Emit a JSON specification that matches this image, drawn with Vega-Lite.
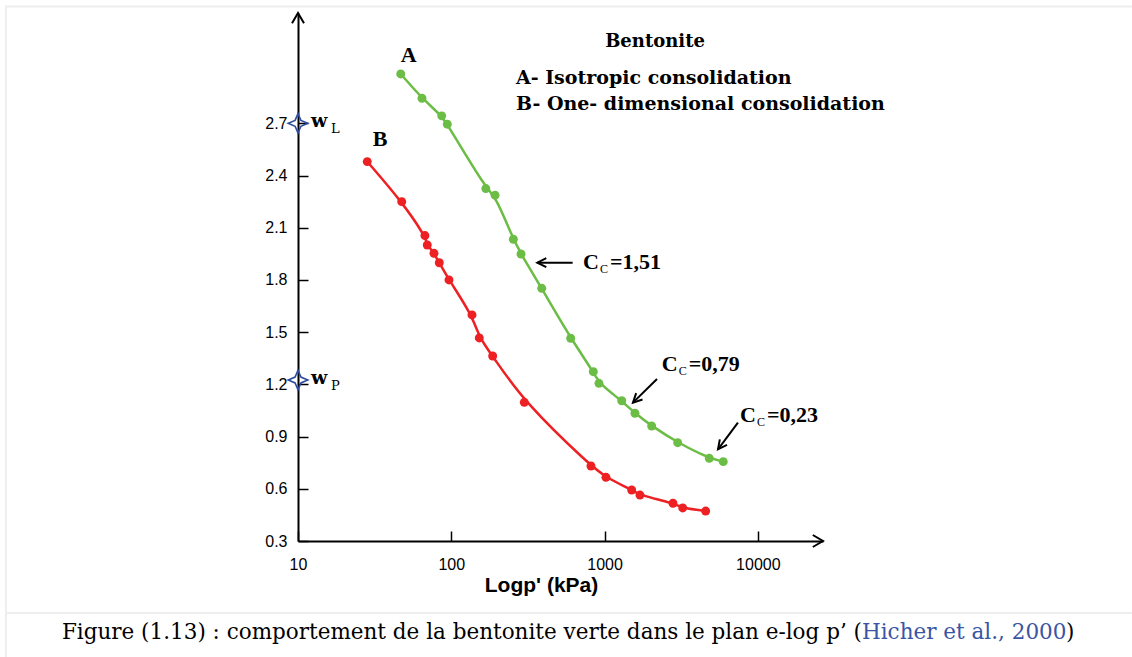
{
"$schema":"https://vega.github.io/schema/vega-lite/v6.json",
"autosize":{"type":"none"},
"padding":{"left":298,"top":13,"right":309,"bottom":116},
"width":525,"height":528,
"background":"white",
"config":{"view":{"stroke":null},"text":{"font":"Liberation Serif","fontWeight":"bold","color":"black"}},
"datasets":{
 "curves":[
  {"test":"A","p":46.8,"e":2.984},{"test":"A","p":64.4,"e":2.844},{"test":"A","p":86.6,"e":2.743},{"test":"A","p":94.2,"e":2.695},{"test":"A","p":168,"e":2.325},{"test":"A","p":193,"e":2.287},{"test":"A","p":254,"e":2.034},{"test":"A","p":285,"e":1.949},{"test":"A","p":389,"e":1.752},{"test":"A","p":601,"e":1.465},{"test":"A","p":844,"e":1.273},{"test":"A","p":919,"e":1.206},{"test":"A","p":1294,"e":1.106},{"test":"A","p":1578,"e":1.034},{"test":"A","p":2029,"e":0.961},{"test":"A","p":2999,"e":0.865},{"test":"A","p":4819,"e":0.775},{"test":"A","p":5945,"e":0.756},
  {"test":"B","p":28.3,"e":2.48},{"test":"B","p":47.5,"e":2.25},{"test":"B","p":67.3,"e":2.055},{"test":"B","p":69.7,"e":2.001},{"test":"B","p":77.1,"e":1.953},{"test":"B","p":83.5,"e":1.899},{"test":"B","p":96.6,"e":1.8},{"test":"B","p":136.5,"e":1.599},{"test":"B","p":152.3,"e":1.467},{"test":"B","p":186.2,"e":1.363},{"test":"B","p":299.4,"e":1.097},{"test":"B","p":815,"e":0.731},{"test":"B","p":1021,"e":0.666},{"test":"B","p":1502,"e":0.593},{"test":"B","p":1702,"e":0.564},{"test":"B","p":2794,"e":0.517},{"test":"B","p":3234,"e":0.49},{"test":"B","p":4565,"e":0.472}
 ],
 "limits":[{"p":10,"e":2.7,"sub":"L"},{"p":10,"e":1.225,"sub":"P"}],
 "curveNames":[{"p":46.8,"e":3.055,"t":"A"},{"p":30.7,"e":2.572,"t":"B"}],
 "heading":[{"p":2133,"e":3.139,"t":"Bentonite"}],
 "legendLines":[{"p":264.3,"e":2.926,"t":"A- Isotropic consolidation"},{"p":264.3,"e":2.777,"t":"B- One- dimensional consolidation"}],
 "cc":[{"id":1,"p":723,"e":1.863,"t":"=1,51"},{"id":2,"p":2358,"e":1.277,"t":"=0,79"},{"id":3,"p":7643,"e":0.981,"t":"=0,23"}],
 "arrows":[{"id":1,"p":619,"e":1.899,"p2":364,"e2":1.899},{"id":2,"p":2198,"e":1.231,"p2":1532,"e2":1.095},{"id":3,"p":7413,"e":0.98,"p2":5495,"e2":0.827}],
 "axisEnds":[{"axis":"x","p":26600,"e":0.3},{"axis":"y","p":10,"e":3.334}],
 "frame":[{"p":0.1227,"e":3.372,"p2":2750000,"e2":3.372},{"p":0.1245,"e":3.372,"p2":0.1245,"e2":-0.4},{"p":0.1245,"e":-0.114,"p2":2750000,"e2":-0.114}],
 "caption":[{"part":"main","p":47760,"e":-0.263,"t":"Figure (1.13) : comportement de la bentonite verte dans le plan e-log p’ ("},{"part":"source","p":47760,"e":-0.263,"t":"Hicher et al., 2000"},{"part":"close","p":1023000,"e":-0.263,"t":")"}]
},
"encoding":{
 "x":{"field":"p","type":"quantitative","scale":{"type":"log","domain":[10,26600],"nice":false},
  "axis":{"values":[10,100,1000,10000],"format":"d","grid":false,"labelFlush":false,"labelOverlap":false,"labelFont":"Liberation Sans","labelFontSize":16,"labelColor":"black","tickSize":-10,"tickColor":"black","tickWidth":1.5,"domainColor":"black","domainWidth":2,"labelPadding":25,
   "title":"Logp' (kPa)","titleFont":"Liberation Sans","titleFontSize":21,"titleFontWeight":"bold","titleColor":"black","titleX":243,"titleY":50,"titleBaseline":"alphabetic"}},
 "y":{"field":"e","type":"quantitative","scale":{"domain":[0.3,3.334],"nice":false,"zero":false},
  "axis":{"values":[0.3,0.6,0.9,1.2,1.5,1.8,2.1,2.4,2.7],"format":".1f","grid":false,"labelFlush":false,"labelOverlap":false,"labelFont":"Liberation Sans","labelFontSize":16,"labelColor":"black","tickSize":-10,"tickColor":"black","tickWidth":1.5,"domainColor":"black","domainWidth":2,"labelPadding":21,"title":null}}
},
"layer":[
 {"data":{"name":"frame"},"mark":{"type":"rule","color":"#eeeeee","strokeWidth":2},"encoding":{"x2":{"field":"p2"},"y2":{"field":"e2"}}},
 {"data":{"name":"curves"},"mark":{"type":"line","interpolate":"basis","strokeWidth":2.5},
  "encoding":{"color":{"field":"test","type":"nominal","scale":{"domain":["A","B"],"range":["#6cbd45","#ed2024"]},"legend":null}}},
 {"data":{"name":"curves"},"mark":{"type":"circle","size":80,"opacity":1},
  "encoding":{"color":{"field":"test","type":"nominal","scale":{"domain":["A","B"],"range":["#6cbd45","#ed2024"]},"legend":null}}},
 {"data":{"name":"limits"},"mark":{"type":"point","shape":"M0,-1L0.3,-0.3L1,0L0.3,0.3L0,1L-0.3,0.3L-1,0L-0.3,-0.3Z","filled":false,"stroke":"#2e4c9e","strokeWidth":1.6,"size":380,"opacity":1}},
 {"data":{"name":"limits"},"mark":{"type":"text","text":"w","align":"left","baseline":"alphabetic","dx":13,"dy":4,"fontSize":19,"font":"DejaVu Serif"}},
 {"data":{"name":"limits"},"mark":{"type":"text","align":"left","baseline":"alphabetic","dx":33,"dy":10,"fontSize":13,"fontWeight":"normal","font":"DejaVu Serif"},"encoding":{"text":{"field":"sub"}}},
 {"data":{"name":"curveNames"},"mark":{"type":"text","align":"left","baseline":"alphabetic","fontSize":22},"encoding":{"text":{"field":"t"}}},
 {"data":{"name":"heading"},"mark":{"type":"text","align":"center","baseline":"alphabetic","fontSize":18,"font":"DejaVu Serif"},"encoding":{"text":{"field":"t"}}},
 {"data":{"name":"legendLines"},"mark":{"type":"text","align":"left","baseline":"alphabetic","fontSize":19,"font":"DejaVu Serif"},"encoding":{"text":{"field":"t"}}},
 {"data":{"name":"cc"},"mark":{"type":"text","text":"C","align":"left","baseline":"alphabetic","fontSize":22}},
 {"data":{"name":"cc"},"mark":{"type":"text","text":"C","align":"left","baseline":"alphabetic","dx":17,"dy":4,"fontSize":12,"fontWeight":"normal"}},
 {"data":{"name":"cc"},"mark":{"type":"text","align":"left","baseline":"alphabetic","dx":27,"fontSize":22},"encoding":{"text":{"field":"t"}}},
 {"data":{"name":"arrows"},"mark":{"type":"rule","color":"black","strokeWidth":2},"encoding":{"x2":{"field":"p2"},"y2":{"field":"e2"}}},
 {"data":{"name":"arrows"},"transform":[{"filter":"datum.id===1"}],"mark":{"type":"point","shape":"M-1.8,-0.9L0,0L-1.8,0.9","filled":false,"stroke":"black","strokeWidth":2,"size":100,"angle":180,"opacity":1},"encoding":{"x":{"field":"p2","type":"quantitative"},"y":{"field":"e2","type":"quantitative"}}},
 {"data":{"name":"arrows"},"transform":[{"filter":"datum.id===2"}],"mark":{"type":"point","shape":"M-1.8,-0.9L0,0L-1.8,0.9","filled":false,"stroke":"black","strokeWidth":2,"size":100,"angle":135,"opacity":1},"encoding":{"x":{"field":"p2","type":"quantitative"},"y":{"field":"e2","type":"quantitative"}}},
 {"data":{"name":"arrows"},"transform":[{"filter":"datum.id===3"}],"mark":{"type":"point","shape":"M-1.8,-0.9L0,0L-1.8,0.9","filled":false,"stroke":"black","strokeWidth":2,"size":100,"angle":127,"opacity":1},"encoding":{"x":{"field":"p2","type":"quantitative"},"y":{"field":"e2","type":"quantitative"}}},
 {"data":{"name":"axisEnds"},"transform":[{"filter":"datum.axis==='x'"}],"mark":{"type":"point","shape":"M-1.7,-1L0,0L-1.7,1","filled":false,"stroke":"black","strokeWidth":2,"size":144,"opacity":1}},
 {"data":{"name":"axisEnds"},"transform":[{"filter":"datum.axis==='y'"}],"mark":{"type":"point","shape":"M-1,1.7L0,0L1,1.7","filled":false,"stroke":"black","strokeWidth":2,"size":144,"opacity":1}},
 {"data":{"name":"caption"},"transform":[{"filter":"datum.part==='main'"}],"mark":{"type":"text","align":"right","baseline":"alphabetic","fontSize":21.5,"fontWeight":"normal","font":"DejaVu Serif"},"encoding":{"text":{"field":"t"}}},
 {"data":{"name":"caption"},"transform":[{"filter":"datum.part==='source'"}],"mark":{"type":"text","align":"left","baseline":"alphabetic","fontSize":21.5,"fontWeight":"normal","font":"DejaVu Serif","color":"#3a55a4"},"encoding":{"text":{"field":"t"}}},
 {"data":{"name":"caption"},"transform":[{"filter":"datum.part==='close'"}],"mark":{"type":"text","align":"left","baseline":"alphabetic","fontSize":21.5,"fontWeight":"normal","font":"DejaVu Serif"},"encoding":{"text":{"field":"t"}}}
]
}
